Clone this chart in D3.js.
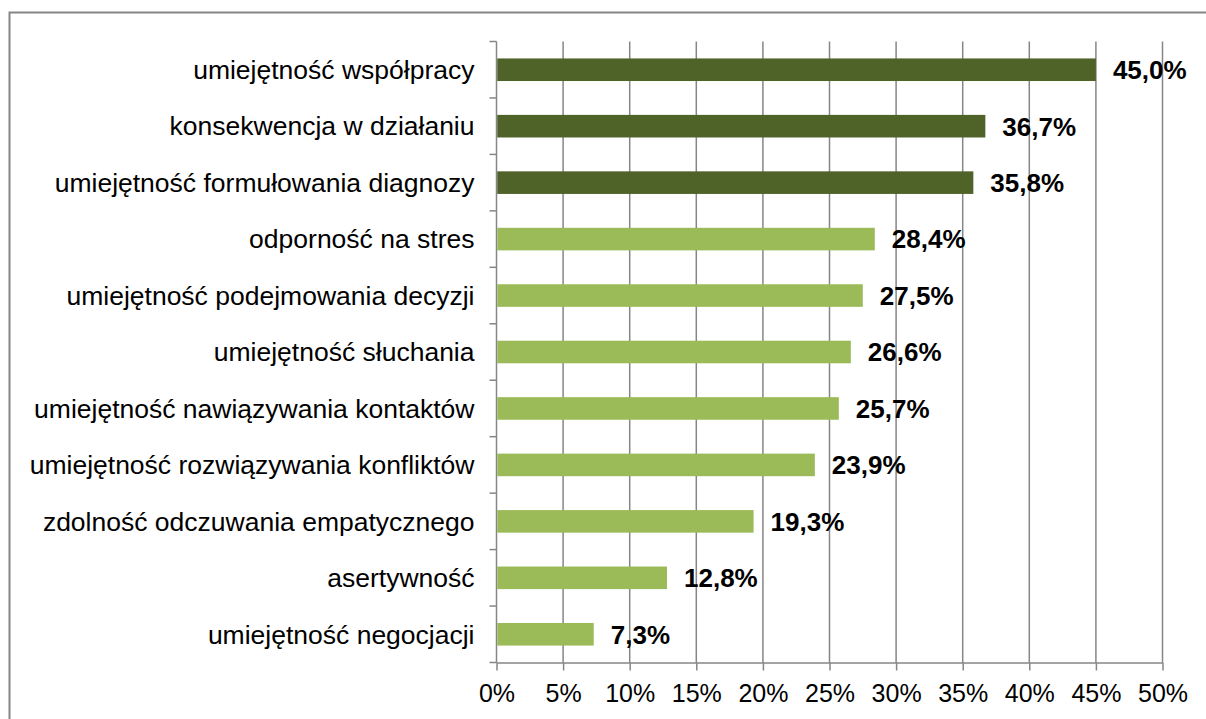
<!DOCTYPE html>
<html>
<head>
<meta charset="utf-8">
<script src="https://cdn.jsdelivr.net/npm/d3@7"></script>
<style>
  body { margin: 0; background: #fff; }
  svg { display: block; }
  text { font-family: Arial, "Liberation Sans", sans-serif; fill: #000; }
</style>
</head>
<body>
<div id="chart"></div>
<script>
// dane z wykresu (od góry do dołu)
const categories = [
    "umiejętność współpracy",
    "konsekwencja w działaniu",
    "umiejętność formułowania diagnozy",
    "odporność na stres",
    "umiejętność podejmowania decyzji",
    "umiejętność słuchania",
    "umiejętność nawiązywania kontaktów",
    "umiejętność rozwiązywania konfliktów",
    "zdolność odczuwania empatycznego",
    "asertywność",
    "umiejętność negocjacji"
];
const values = [45.0, 36.7, 35.8, 28.4, 27.5, 26.6, 25.7, 23.9, 19.3, 12.8, 7.3];
const highlighted = [true, true, true, false, false, false, false, false, false, false, false];
const xTicks = [0, 5, 10, 15, 20, 25, 30, 35, 40, 45, 50];

const width = 1206, height = 719;
const margin = { top: 41.5, right: 43.5, bottom: 56.5, left: 496.5 };
const gridColor = "#868686";

const svg = d3.select("#chart").append("svg")
    .attr("width", width)
    .attr("height", height);

// ramka wykresu
svg.append("rect")
    .attr("x", 9.5).attr("y", 12.5)
    .attr("width", width + 20).attr("height", height + 20)
    .attr("fill", "none")
    .attr("stroke", gridColor)
    .attr("stroke-width", 2);

const x = d3.scaleLinear()
    .domain([0, 50])
    .range([margin.left, width - margin.right]);

const y = d3.scaleBand()
    .domain(categories)
    .range([margin.top, height - margin.bottom])
    .paddingInner(0.6)
    .paddingOuter(0.3);

const plotBottom = height - margin.bottom;

// linie siatki
svg.append("g")
    .selectAll("line")
    .data(xTicks.slice(1))
    .join("line")
    .attr("x1", d => x(d)).attr("x2", d => x(d))
    .attr("y1", margin.top).attr("y2", plotBottom)
    .attr("stroke", gridColor)
    .attr("stroke-width", 1.5);

// oś X
const xAxis = svg.append("g")
    .attr("transform", `translate(0,${plotBottom})`)
    .call(d3.axisBottom(x).tickValues(xTicks).tickFormat(d => d + "%").tickSize(8).tickPadding(14).tickSizeOuter(0));
xAxis.select(".domain").attr("stroke", gridColor).attr("stroke-width", 1.5);
xAxis.selectAll(".tick line").attr("stroke", gridColor).attr("stroke-width", 1.5);
xAxis.selectAll(".tick text")
    .style("font-size", "25px")
    .attr("fill", "#000");

// oś Y (znaczniki na granicach kategorii)
const bounds = d3.range(categories.length + 1).map(i => margin.top + i * (plotBottom - margin.top) / categories.length);
svg.append("line")
    .attr("x1", margin.left).attr("x2", margin.left)
    .attr("y1", margin.top).attr("y2", plotBottom)
    .attr("stroke", gridColor).attr("stroke-width", 1.5);
svg.append("g")
    .selectAll("line")
    .data(bounds)
    .join("line")
    .attr("x1", margin.left - 7).attr("x2", margin.left)
    .attr("y1", d => d).attr("y2", d => d)
    .attr("stroke", gridColor).attr("stroke-width", 1.5);

// etykiety kategorii
svg.append("g")
    .selectAll("text")
    .data(categories)
    .join("text")
    .attr("x", margin.left - 22)
    .attr("y", d => y(d) + y.bandwidth() / 2)
    .attr("dy", "0.35em")
    .attr("text-anchor", "end")
    .style("font-size", "26.5px")
    .text(d => d);

// słupki
svg.append("g")
    .selectAll("rect")
    .data(values)
    .join("rect")
    .attr("x", x(0) + 0.75)
    .attr("y", (d, i) => y(categories[i]))
    .attr("width", d => x(d) - x(0) - 0.75)
    .attr("height", y.bandwidth())
    .attr("fill", (d, i) => highlighted[i] ? "#4F6228" : "#9BBB59");

// etykiety wartości
svg.append("g")
    .selectAll("text")
    .data(values)
    .join("text")
    .attr("x", d => x(d) + 17)
    .attr("y", (d, i) => y(categories[i]) + y.bandwidth() / 2)
    .attr("dy", "0.36em")
    .style("font-size", "26px")
    .style("font-weight", "bold")
    .text(d => d.toFixed(1).replace(".", ",") + "%");
</script>
</body>
</html>
